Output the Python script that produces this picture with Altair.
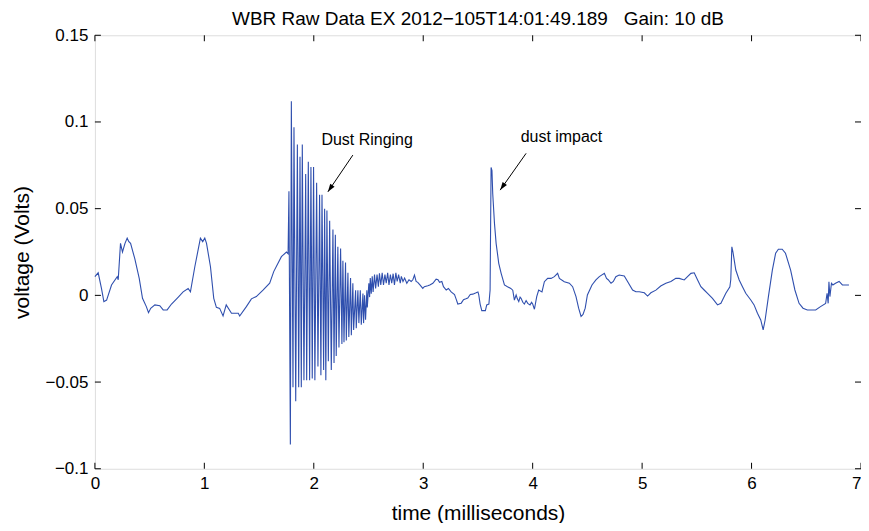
import altair as alt
import pandas as pd

# ---- data (time in ms, voltage in V) ----
seg_before = [
    (0.000, 0.0108), (0.030, 0.0130), (0.060, 0.0040), (0.082, -0.0036), (0.107, -0.0027),
    (0.152, 0.0060), (0.204, 0.0108), (0.213, 0.0090), (0.234, 0.0300), (0.252, 0.0250),
    (0.275, 0.0300), (0.295, 0.0330), (0.310, 0.0310), (0.326, 0.0300), (0.365, 0.0210),
    (0.405, 0.0098), (0.435, -0.0017), (0.470, -0.0065), (0.490, -0.0100), (0.510, -0.0075),
    (0.548, -0.0055), (0.593, -0.0060), (0.624, -0.0084), (0.660, -0.0084), (0.700, -0.0050),
    (0.760, -0.0011), (0.806, 0.0020), (0.852, 0.0040), (0.873, 0.0020), (0.913, 0.0165),
    (0.964, 0.0330), (0.985, 0.0310), (1.004, 0.0330), (1.020, 0.0300), (1.056, 0.0165),
    (1.086, -0.0017), (1.110, -0.0069), (1.140, -0.0075), (1.171, -0.0119), (1.200, -0.0055),
    (1.248, -0.0103), (1.310, -0.0103), (1.323, -0.0119), (1.384, -0.0065), (1.430, -0.0020),
    (1.475, -0.0007), (1.536, 0.0030), (1.597, 0.0070), (1.634, 0.0137), (1.673, 0.0185),
    (1.704, 0.0223), (1.750, 0.0250), (1.765, 0.0240),
]

seg_ringing = [
    (1.773, 0.060), (1.786, -0.086), (1.795, 0.112), (1.810, -0.053), (1.819, 0.097),
    (1.835, -0.061), (1.850, 0.087), (1.862, -0.053), (1.874, 0.080), (1.886, -0.053),
    (1.895, 0.087), (1.910, -0.049), (1.926, 0.070), (1.935, -0.049), (1.950, 0.077),
    (1.962, -0.049), (1.974, 0.074), (1.986, -0.048), (1.998, 0.074), (2.010, -0.049),
    (2.026, 0.065), (2.038, -0.041), (2.053, 0.058), (2.065, -0.046), (2.075, 0.058),
    (2.090, -0.043), (2.099, 0.050), (2.110, -0.049), (2.120, 0.049), (2.133, -0.038),
    (2.145, 0.043), (2.160, -0.043), (2.175, 0.038), (2.185, -0.039), (2.197, 0.035),
    (2.205, -0.035), (2.220, 0.028), (2.230, -0.030), (2.245, 0.027), (2.257, -0.028),
    (2.266, 0.020), (2.276, -0.027), (2.290, 0.019), (2.297, -0.026), (2.312, 0.013),
    (2.320, -0.024), (2.336, 0.010), (2.343, -0.023), (2.357, 0.007), (2.364, -0.020),
    (2.382, 0.003), (2.388, -0.019), (2.403, 0.003), (2.412, -0.016), (2.425, 0.003),
    (2.434, -0.017), (2.449, 0.001), (2.455, -0.016), (2.464, 0.000), (2.473, -0.014),
    (2.485, 0.003), (2.489, -0.007), (2.503, 0.007), (2.510, -0.001), (2.516, 0.010),
    (2.525, 0.001), (2.534, 0.011), (2.542, 0.002), (2.555, 0.012), (2.565, 0.004),
]

seg_settle = [
    (2.578, 0.0120), (2.590, 0.0050), (2.600, 0.0127), (2.612, 0.0060), (2.625, 0.0130),
    (2.637, 0.0060), (2.650, 0.0120), (2.662, 0.0070), (2.675, 0.0130), (2.687, 0.0060),
    (2.700, 0.0120), (2.712, 0.0070), (2.725, 0.0125), (2.737, 0.0060), (2.750, 0.0130),
    (2.762, 0.0080), (2.775, 0.0120), (2.790, 0.0070), (2.800, 0.0110), (2.815, 0.0080),
    (2.830, 0.0100), (2.850, 0.0070), (2.870, 0.0090), (2.890, 0.0080), (2.905, 0.0090),
    (2.920, 0.0117), (2.935, 0.0080), (2.950, 0.0075), (2.970, 0.0060), (2.996, 0.0040),
    (3.010, 0.0050), (3.042, 0.0055), (3.060, 0.0060), (3.088, 0.0070), (3.118, 0.0093),
    (3.135, 0.0090), (3.149, 0.0075), (3.170, 0.0080), (3.185, 0.0050), (3.210, 0.0031),
    (3.230, 0.0040), (3.255, 0.0020), (3.286, 0.0005), (3.300, -0.0020), (3.316, -0.0050),
    (3.347, -0.0045), (3.368, -0.0025), (3.390, -0.0020), (3.407, -0.0015), (3.430, 0.0005),
    (3.453, 0.0007), (3.483, 0.0015), (3.500, 0.0020), (3.507, 0.0005), (3.520, -0.0050),
    (3.535, -0.0088), (3.568, -0.0088), (3.580, -0.0055), (3.600, -0.0050), (3.611, 0.0031),
]

seg_impact = [
    (3.620, 0.0738), (3.628, 0.0720), (3.635, 0.0588), (3.651, 0.0415), (3.666, 0.0300),
    (3.690, 0.0185), (3.712, 0.0127), (3.742, 0.0060), (3.770, 0.0050), (3.800, 0.0040),
    (3.818, 0.0030), (3.833, -0.0027), (3.849, 0.0002), (3.860, -0.0020), (3.873, -0.0036),
    (3.885, -0.0010), (3.894, -0.0017), (3.910, -0.0040), (3.924, -0.0050), (3.940, -0.0030),
    (3.955, -0.0046), (3.976, -0.0055), (3.990, -0.0040), (4.000, -0.0050), (4.016, -0.0080),
    (4.037, -0.0007), (4.055, 0.0031), (4.085, 0.0020), (4.107, 0.0079), (4.137, 0.0098),
    (4.168, 0.0098), (4.198, 0.0108), (4.228, 0.0127), (4.244, 0.0098), (4.289, 0.0079),
    (4.335, 0.0070), (4.365, 0.0050), (4.396, -0.0007), (4.420, -0.0074), (4.442, -0.0122),
    (4.460, -0.0110), (4.480, -0.0074), (4.500, 0.0002), (4.542, 0.0060), (4.578, 0.0089),
]

seg_tail = [
    (4.609, 0.0108), (4.655, 0.0127), (4.675, 0.0098), (4.690, 0.0090), (4.716, 0.0070),
    (4.737, 0.0080), (4.760, 0.0108), (4.790, 0.0117), (4.837, 0.0112), (4.867, 0.0080),
    (4.913, 0.0031), (4.943, 0.0021), (4.974, 0.0021), (5.020, 0.0015), (5.050, -0.0004),
    (5.080, 0.0015), (5.126, 0.0030), (5.170, 0.0054), (5.217, 0.0070), (5.263, 0.0080),
    (5.308, 0.0098), (5.339, 0.0098), (5.385, 0.0089), (5.415, 0.0108), (5.446, 0.0127),
    (5.476, 0.0130), (5.507, 0.0089), (5.537, 0.0050), (5.567, 0.0031), (5.598, 0.0012),
    (5.643, -0.0017), (5.689, -0.0055), (5.720, -0.0046), (5.765, 0.0012), (5.802, 0.0050),
    (5.810, 0.0090), (5.820, 0.0280), (5.830, 0.0250), (5.856, 0.0146), (5.887, 0.0089),
    (5.917, 0.0050), (5.947, 0.0012), (5.993, -0.0027), (6.023, -0.0055), (6.054, -0.0103),
    (6.084, -0.0142), (6.106, -0.0199), (6.124, -0.0142), (6.154, -0.0007), (6.190, 0.0146),
    (6.220, 0.0243), (6.245, 0.0266), (6.280, 0.0266), (6.310, 0.0243), (6.357, 0.0146),
    (6.396, 0.0031), (6.434, -0.0046), (6.470, -0.0074), (6.510, -0.0084), (6.586, -0.0084),
    (6.630, -0.0065), (6.677, -0.0046), (6.690, 0.0012), (6.700, -0.0046), (6.707, 0.0079),
    (6.716, -0.0007), (6.730, 0.0070), (6.743, 0.0060), (6.767, 0.0070), (6.800, 0.0080),
    (6.830, 0.0060), (6.860, 0.0060), (6.890, 0.0060),
]

x_ticks = [0, 1, 2, 3, 4, 5, 6, 7]
y_ticks = [-0.1, -0.05, 0, 0.05, 0.1, 0.15]

annot_text = ["Dust Ringing", "dust impact"]
annot_t = [2.07, 3.89]
annot_v = [0.0895, 0.0914]
arrow_start_t = [2.357, 3.94]
arrow_start_v = [0.0809, 0.0819]
arrow_end_t = [2.129, 3.703]
arrow_end_v = [0.0597, 0.0607]
arrow_angle = [214, 215]

TITLE = "WBR Raw Data EX 2012\u2212105T14:01:49.189\u00a0\u00a0\u00a0Gain: 10 dB"
FONT = "Liberation Sans"
W, H = 767, 434

rows = []
for seg in (seg_before, seg_ringing, seg_settle, seg_impact, seg_tail):
    rows.extend(seg)
wave = pd.DataFrame(rows, columns=["t", "v"])

xscale = alt.Scale(domain=[0, 7], nice=False, zero=False)
yscale = alt.Scale(domain=[-0.1, 0.15], nice=False, zero=False)

last_x = x_ticks[-1]
xaxis = alt.Axis(values=x_ticks, format="d", ticks=False, tickSize=0, domain=False, grid=False,
                 labelFlush=False, labelOverlap=False,
                 labelAlign={"condition": {"test": f"datum.value >= {last_x}", "value": "right"},
                             "value": "center"},
                 labelFontSize=17, labelFont=FONT, labelPadding=7, labelColor="black",
                 titleFontSize=21, titleFont=FONT, titleFontWeight="normal", titlePadding=11,
                 titleColor="black")
yaxis = alt.Axis(values=y_ticks, format="~g", ticks=False, tickSize=0, domain=False, grid=False,
                 labelFlush=False, labelOverlap=False,
                 labelFontSize=17, labelFont=FONT, labelPadding=7, labelColor="black",
                 titleFontSize=21, titleFont=FONT, titleFontWeight="normal", titlePadding=12,
                 titleColor="black")

line = alt.Chart(wave).mark_line(color="#2f4fae", strokeWidth=1.1, interpolate="linear").encode(
    x=alt.X("t:Q", scale=xscale, axis=xaxis, title="time (milliseconds)"),
    y=alt.Y("v:Q", scale=yscale, axis=yaxis, title="voltage (Volts)"),
    order=alt.Order("t:Q"),
)

xt = pd.DataFrame({"t": x_ticks})
yt = pd.DataFrame({"v": y_ticks})
tick_style = dict(color="black", strokeWidth=1)
xb = alt.Chart(xt).mark_rule(**tick_style).encode(x=alt.X("t:Q", scale=xscale), y=alt.value(H), y2=alt.value(H - 6))
xtop = alt.Chart(xt).mark_rule(**tick_style).encode(x=alt.X("t:Q", scale=xscale), y=alt.value(0), y2=alt.value(6))
yl = alt.Chart(yt).mark_rule(**tick_style).encode(y=alt.Y("v:Q", scale=yscale), x=alt.value(0), x2=alt.value(6))
yr = alt.Chart(yt).mark_rule(**tick_style).encode(y=alt.Y("v:Q", scale=yscale), x=alt.value(W), x2=alt.value(W - 6))

ann = pd.DataFrame({"text": annot_text, "t": annot_t, "v": annot_v})
labels = alt.Chart(ann).mark_text(align="left", baseline="middle", font=FONT, fontSize=16, color="black").encode(
    x=alt.X("t:Q", scale=xscale), y=alt.Y("v:Q", scale=yscale), text="text:N")

arr = pd.DataFrame({"t0": arrow_start_t, "v0": arrow_start_v, "t1": arrow_end_t, "v1": arrow_end_v,
                    "ang": arrow_angle})
shafts = alt.Chart(arr).mark_rule(color="black", strokeWidth=1).encode(
    x=alt.X("t0:Q", scale=xscale), y=alt.Y("v0:Q", scale=yscale),
    x2="t1:Q", y2="v1:Q")
heads = alt.Chart(arr).mark_point(shape="M0,0L-0.55,1.7L0.55,1.7Z", filled=True, color="black",
                                  size=90, opacity=1).encode(
    x=alt.X("t1:Q", scale=xscale), y=alt.Y("v1:Q", scale=yscale),
    angle=alt.Angle("ang:Q", scale=None))

chart = alt.layer(line, xb, xtop, yl, yr, shafts, heads, labels).properties(
    width=W, height=H,
    title=alt.TitleParams(TITLE, font=FONT, fontSize=19, fontWeight="normal", color="black",
                          offset=-3),
    autosize=alt.AutoSizeParams(type="none"),
    padding={"left": 87, "top": 27, "right": 0, "bottom": 54},
).configure_view(stroke="black", strokeWidth=1).configure(background="white")

chart.save("out.html", embed_options={"renderer": "svg", "actions": False})
